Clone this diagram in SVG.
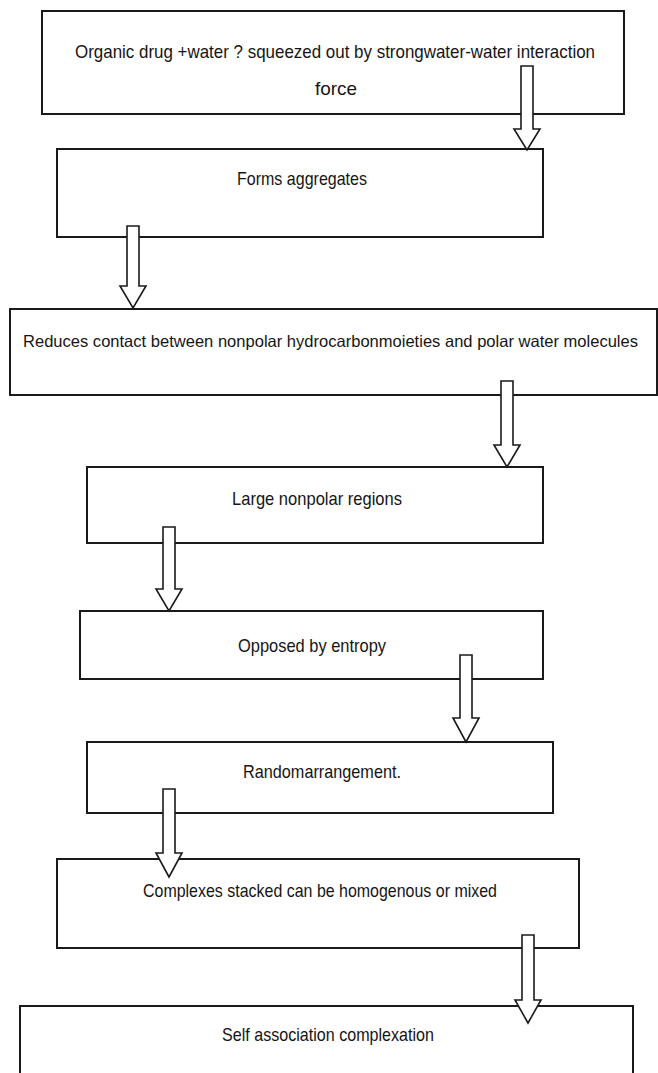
<svg xmlns="http://www.w3.org/2000/svg" width="658" height="1073" viewBox="0 0 658 1073">
<style>
.box{fill:#fff;stroke:#1a1a1a;stroke-width:2}
.arr{fill:#fff;stroke:#1a1a1a;stroke-width:1.6;stroke-linejoin:miter}
.t{font-family:"Liberation Sans",Arial,sans-serif;font-size:19px;fill:#151515}
</style>
<rect width="658" height="1073" fill="#fff"/>
<g id="n1"><rect class="box" x="42" y="11" width="582" height="103"/>
<text class="t" x="75" y="58" textLength="520" lengthAdjust="spacingAndGlyphs">Organic drug +water ?  squeezed out by strongwater-water interaction</text>
<text class="t" x="315" y="95" textLength="42" lengthAdjust="spacingAndGlyphs">force</text></g>
<g id="n2"><rect class="box" x="57" y="149" width="486" height="88"/>
<text class="t" x="237" y="185" textLength="130" lengthAdjust="spacingAndGlyphs">Forms aggregates</text></g>
<g id="n3"><rect class="box" x="10" y="309" width="647" height="86"/>
<text class="t" x="23" y="347" textLength="615" lengthAdjust="spacingAndGlyphs" style="font-size:16.5px">Reduces contact between  nonpolar hydrocarbonmoieties and polar water molecules</text></g>
<g id="n4"><rect class="box" x="87" y="467" width="456" height="76"/>
<text class="t" x="232" y="505" textLength="170" lengthAdjust="spacingAndGlyphs">Large nonpolar regions</text></g>
<g id="n5"><rect class="box" x="80" y="611" width="463" height="68"/>
<text class="t" x="238" y="652" textLength="148" lengthAdjust="spacingAndGlyphs">Opposed by entropy</text></g>
<g id="n6"><rect class="box" x="87" y="742" width="466" height="71"/>
<text class="t" x="243" y="778" textLength="158" lengthAdjust="spacingAndGlyphs">Randomarrangement.</text></g>
<g id="n7"><rect class="box" x="57" y="859" width="522" height="89"/>
<text class="t" x="143" y="897" textLength="354" lengthAdjust="spacingAndGlyphs">Complexes stacked can be homogenous or mixed</text></g>
<g id="n8"><rect class="box" x="20" y="1006" width="613" height="80"/>
<text class="t" x="222" y="1041" textLength="212" lengthAdjust="spacingAndGlyphs">Self association complexation</text></g>
<g id="connectors">
<path class="arr" d="M521 66H533V129H540L527 150L514 129H521Z"/>
<path class="arr" d="M127 226H139V286H146L133 308L120 286H127Z"/>
<path class="arr" d="M501 381H513V445H520L507 467L494 445H501Z"/>
<path class="arr" d="M163 527H175V589H182L169 611L156 589H163Z"/>
<path class="arr" d="M460 655H472V718H479L466 742L453 718H460Z"/>
<path class="arr" d="M163 789H175V853H182L169 877L156 853H163Z"/>
<path class="arr" d="M522 935H534V1000H541L528 1023L515 1000H522Z"/>
</g>
</svg>
